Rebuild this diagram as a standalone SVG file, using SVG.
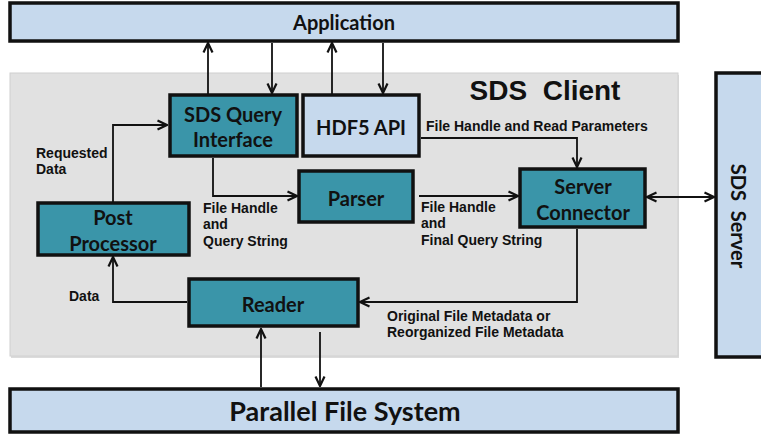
<svg xmlns="http://www.w3.org/2000/svg" width="761" height="435" viewBox="0 0 761 435">
<style>
.box{stroke:#111;stroke-width:3.5}
.teal{fill:#3a95a9}
.lb{fill:#c6d9ed}
.bt{font-family:Lato,"Open Sans",sans-serif;font-weight:bold;fill:#111;text-anchor:middle}
.sm{font-family:"Liberation Sans",Arial,sans-serif;font-weight:bold;font-size:14px;fill:#111}
.cn{fill:none;stroke:#111;stroke-width:1.8}
</style>
<defs>
<marker id="ah" viewBox="0 0 12 12" refX="11" refY="6" markerWidth="12" markerHeight="12" orient="auto-start-reverse" markerUnits="userSpaceOnUse">
<path d="M1.5,1.5 L11,6 L1.5,10.5" fill="none" stroke="#111" stroke-width="2.2"/>
</marker>
</defs>
<rect width="761" height="435" fill="#fff"/>
<g id="sds-client">
<rect x="11" y="75" width="668" height="283" fill="#b9b9b9" opacity="0.5"/>
<rect x="10" y="73" width="668" height="283" fill="#e1e1e1" stroke="#d0d0d0" stroke-width="1"/>
<text x="545" y="100" font-family="'Liberation Sans',Arial,sans-serif" font-weight="bold" font-size="28" text-anchor="middle" fill="#111" xml:space="preserve">SDS  Client</text>
</g>
<g id="application">
<rect class="box lb" x="10" y="3" width="668" height="38"/>
<text class="bt" x="344" y="30" font-size="20">Application</text>
</g>
<g id="sds-server">
<rect class="box lb" x="716" y="73" width="50" height="284"/>
<text class="bt" transform="translate(738,216) rotate(90)" x="0" y="7" font-size="20" xml:space="preserve">SDS  Server</text>
</g>
<g id="pfs">
<rect class="box lb" x="10" y="389" width="668" height="43"/>
<text class="bt" x="345" y="421" font-size="27">Parallel File System</text>
</g>
<g id="sds-query-interface">
<rect class="box teal" x="170" y="95" width="127" height="61"/>
<text class="bt" x="233" y="122" font-size="20">SDS Query</text>
<text class="bt" x="233" y="147" font-size="20">Interface</text>
</g>
<g id="hdf5-api">
<rect class="box lb" x="303" y="95" width="116" height="61"/>
<text class="bt" x="361" y="135" font-size="20">HDF5 API</text>
</g>
<g id="parser">
<rect class="box teal" x="299" y="171" width="114" height="51"/>
<text class="bt" x="356" y="206" font-size="20">Parser</text>
</g>
<g id="server-connector">
<rect class="box teal" x="520" y="169" width="125" height="58"/>
<text class="bt" x="583" y="194" font-size="20">Server</text>
<text class="bt" x="583" y="220" font-size="20">Connector</text>
</g>
<g id="post-processor">
<rect class="box teal" x="38" y="203" width="151" height="52"/>
<text class="bt" x="113" y="225" font-size="20">Post</text>
<text class="bt" x="113" y="251" font-size="20">Processor</text>
</g>
<g id="reader">
<rect class="box teal" x="189" y="279" width="169" height="47"/>
<text class="bt" x="273" y="312" font-size="20">Reader</text>
</g>
<g id="connectors">
<path class="cn" d="M208,94 V43" marker-end="url(#ah)"/>
<path class="cn" d="M272,43 V93" marker-end="url(#ah)"/>
<path class="cn" d="M332,94 V43" marker-end="url(#ah)"/>
<path class="cn" d="M383,43 V93" marker-end="url(#ah)"/>
<path class="cn" d="M113,202 V125 H167" marker-end="url(#ah)"/>
<path class="cn" d="M213,158 V196 H297" marker-end="url(#ah)"/>
<path class="cn" d="M419,196 H518" marker-end="url(#ah)"/>
<path class="cn" d="M421,138 H577 V167" marker-end="url(#ah)"/>
<path class="cn" d="M647,197 H714" marker-start="url(#ah)" marker-end="url(#ah)"/>
<path class="cn" d="M577,229 V302 H360" marker-end="url(#ah)"/>
<path class="cn" d="M187,302 H113 V257" marker-end="url(#ah)"/>
<path class="cn" d="M261,387 V329" marker-end="url(#ah)"/>
<path class="cn" d="M320,332 V386" marker-end="url(#ah)"/>
</g>
<g id="labels">
<text class="sm" x="36" y="158">Requested</text>
<text class="sm" x="36" y="174">Data</text>
<text class="sm" x="203" y="213">File Handle</text>
<text class="sm" x="203" y="229">and</text>
<text class="sm" x="203" y="246">Query String</text>
<text class="sm" x="69" y="301">Data</text>
<text class="sm" x="421" y="212">File Handle</text>
<text class="sm" x="421" y="228">and</text>
<text class="sm" x="421" y="245">Final Query String</text>
<text class="sm" x="387" y="321">Original File Metadata or</text>
<text class="sm" x="387" y="337">Reorganized File Metadata</text>
<text class="sm" x="426" y="131">File Handle and Read Parameters</text>
</g>
</svg>
